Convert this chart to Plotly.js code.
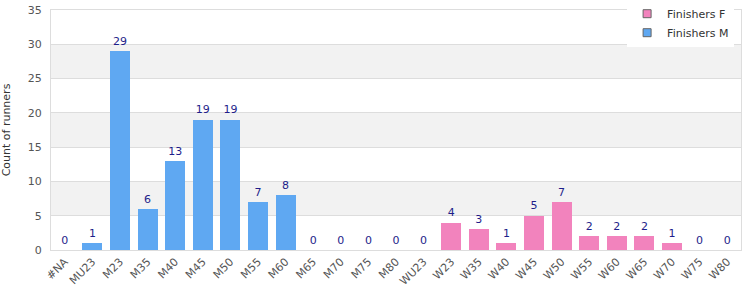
<!DOCTYPE html>
<html>
<head>
<meta charset="utf-8">
<script src="https://cdn.plot.ly/plotly-3.0.1.min.js"></script>
<style>html,body{margin:0;padding:0;background:#fff;}#chart{width:750px;height:300px;}</style>
</head>
<body>
<div id="chart"></div>
<script>
const categories = ["#NA","MU23","M23","M35","M40","M45","M50","M55","M60","M65","M70","M75","M80","WU23","W23","W35","W40","W45","W50","W55","W60","W65","W70","W75","W80"];
const finishersF = [0,0,0,0,0,0,0,0,0,0,0,0,0,0,4,3,1,5,7,2,2,2,1,0,0];
const finishersM = [0,1,29,6,13,19,19,7,8,0,0,0,0,0,0,0,0,0,0,0,0,0,0,0,0];
const seriesNames = ["Finishers F","Finishers M"];
const seriesColors = ["#f283bd","#5fa8f2"];
const totals = categories.map((c,i)=>finishersF[i]+finishersM[i]);
const bands = [[5,10],[15,20],[25,30]];

const font = "DejaVu Sans, Verdana, sans-serif";
const traces = [
  {type:'bar', name:seriesNames[0], x:categories, y:finishersF, marker:{color:seriesColors[0]}, showlegend:false},
  {type:'bar', name:seriesNames[1], x:categories, y:finishersM, marker:{color:seriesColors[1]}, showlegend:false},
  {type:'scatter', mode:'markers+text', x:categories, y:totals, text:totals.map(String), textposition:'top center',
   marker:{size:4, opacity:0}, textfont:{family:font, size:11, color:'#1e1e8a'}, showlegend:false, hoverinfo:'skip', cliponaxis:false},
  {type:'scatter', mode:'markers', name:seriesNames[0], x:[null], y:[null], marker:{symbol:'square', size:8, color:seriesColors[0], line:{color:'#666', width:1}}},
  {type:'scatter', mode:'markers', name:seriesNames[1], x:[null], y:[null], marker:{symbol:'square', size:8, color:seriesColors[1], line:{color:'#666', width:1}}}
];
const shapes = bands.map(b=>({type:'rect', xref:'paper', yref:'y', x0:0, x1:1, y0:b[0], y1:b[1], fillcolor:'#f2f2f2', line:{width:0}, layer:'below'}));
const layout = {
  width:750, height:300,
  margin:{l:51, r:9, t:10, b:50, autoexpand:false},
  barmode:'stack', bargap:0.27,
  paper_bgcolor:'#fff', plot_bgcolor:'#fff',
  font:{family:font, size:11, color:'#444'},
  shapes:shapes,
  xaxis:{type:'category', range:[-0.5, categories.length-0.5], autorange:false, tickangle:-45, showline:true, linecolor:'#dddddd', linewidth:1, mirror:true, ticks:'', showgrid:false, tickfont:{family:font, size:11, color:'#555'}, automargin:false},
  yaxis:{range:[0,35], dtick:5, showline:true, linecolor:'#dddddd', linewidth:1, mirror:true, gridcolor:'#dddddd', zeroline:false, ticks:'', tickfont:{family:font, size:11, color:'#555'},
         ticklabelstandoff:6, title:{text:'Count of runners', font:{family:font, size:11, color:'#333'}, standoff:16}, automargin:false},
  legend:{x:0.99, xanchor:'right', y:1.045, yanchor:'top', bgcolor:'#ffffff', font:{family:font, size:11, color:'#333'}, traceorder:'normal', itemwidth:30, tracegroupgap:0}
};
Plotly.newPlot('chart', traces, layout, {displayModeBar:false, staticPlot:true});
</script>
</body>
</html>
